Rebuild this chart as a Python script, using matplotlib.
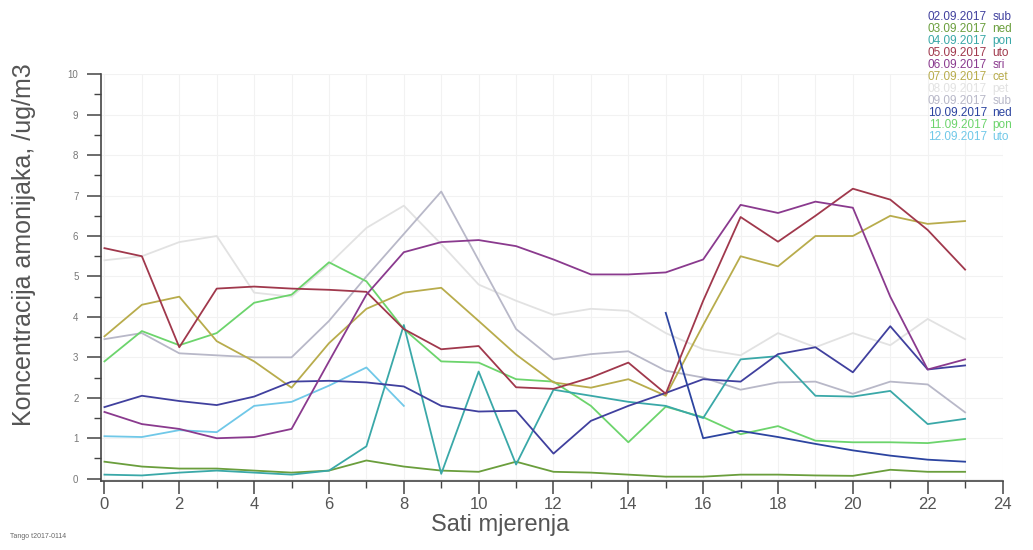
import numpy as np
import matplotlib
matplotlib.use("Agg")
import matplotlib.pyplot as plt
from matplotlib.ticker import MultipleLocator

plt.rcParams['font.family'] = ['Liberation Sans', 'DejaVu Sans']

hours = list(range(24))
N = None

dates = ["02.09.2017", "03.09.2017", "04.09.2017", "05.09.2017", "06.09.2017", "07.09.2017",
         "08.09.2017", "09.09.2017", "10.09.2017", "11.09.2017", "12.09.2017"]
days = ["sub", "ned", "pon", "uto", "sri", "cet", "pet", "sub", "ned", "pon", "uto"]
colors = ["#40409e", "#6a9e3c", "#3aa8a8", "#a0384c", "#8a3a8e", "#b8ac4c",
          "#e2e2e2", "#b8b8c8", "#2c44a0", "#6cd46c", "#70c8e8"]

d0209 = [1.77, 2.05, 1.92, 1.82, 2.03, 2.40, 2.42, 2.38, 2.28, 1.80, 1.66, 1.68,
         0.62, 1.43, 1.80, 2.12, 2.46, 2.40, 3.08, 3.25, 2.63, 3.77, 2.70, 2.80]
d0309 = [0.42, 0.30, 0.25, 0.25, 0.20, 0.15, 0.20, 0.45, 0.30, 0.20, 0.17, 0.42,
         0.17, 0.15, 0.10, 0.05, 0.05, 0.10, 0.10, 0.08, 0.07, 0.22, 0.17, 0.17]
d0409 = [0.10, 0.08, 0.15, 0.20, 0.15, 0.10, 0.20, 0.80, 3.80, 0.12, 2.65, 0.35,
         2.20, 2.05, 1.90, 1.80, 1.50, 2.95, 3.03, 2.05, 2.03, 2.17, 1.35, 1.48]
d0509 = [5.70, 5.50, 3.25, 4.70, 4.75, 4.70, 4.67, 4.62, 3.70, 3.20, 3.28, 2.26,
         2.22, 2.50, 2.87, 2.10, 4.40, 6.47, 5.86, 6.50, 7.17, 6.90, 6.15, 5.17]
d0609 = [1.65, 1.35, 1.23, 1.00, 1.03, 1.23, 2.90, 4.55, 5.60, 5.85, 5.90, 5.75,
         5.42, 5.05, 5.05, 5.10, 5.42, 6.77, 6.57, 6.85, 6.70, 4.50, 2.70, 2.95]
d0709 = [3.52, 4.30, 4.50, 3.40, 2.90, 2.25, 3.35, 4.20, 4.60, 4.72, 3.90, 3.07,
         2.38, 2.25, 2.46, 2.05, 3.80, 5.50, 5.25, 6.00, 6.00, 6.50, 6.30, 6.37]
d0809 = [5.40, 5.50, 5.85, 6.00, 4.60, 4.50, 5.30, 6.20, 6.75, 5.80, 4.80, 4.40,
         4.05, 4.20, 4.15, 3.60, 3.20, 3.05, 3.60, 3.25, 3.60, 3.30, 3.95, 3.45]
d0909 = [3.45, 3.60, 3.10, 3.05, 3.00, 3.00, 3.90, 5.00, 6.05, 7.10, 5.40, 3.70,
         2.95, 3.08, 3.15, 2.67, 2.50, 2.20, 2.38, 2.40, 2.10, 2.40, 2.33, 1.64]
d1009 = [N, N, N, N, N, N, N, N, N, N, N, N,
         N, N, N, 4.10, 1.00, 1.18, 1.03, 0.86, 0.70, 0.57, 0.47, 0.42]
d1109 = [2.90, 3.65, 3.30, 3.60, 4.35, 4.55, 5.35, 4.88, 3.70, 2.90, 2.87, 2.46,
         2.40, 1.80, 0.90, 1.78, 1.52, 1.10, 1.30, 0.94, 0.90, 0.90, 0.88, 0.98]
d1209 = [1.05, 1.03, 1.20, 1.15, 1.80, 1.90, 2.30, 2.75, 1.80, N, N, N,
         N, N, N, N, N, N, N, N, N, N, N, N]

series = [d0209, d0309, d0409, d0509, d0609, d0709, d0809, d0909, d1009, d1109, d1209]

fig = plt.figure(figsize=(10.33, 5.5), dpi=100)
ax = fig.add_axes([0.0975, 0.126, 0.873, 0.739])

draw_order = [6, 7, 10, 9, 1, 2, 5, 0, 8, 3, 4]
for i in draw_order:
    y = np.array([np.nan if v is None else v for v in series[i]], dtype=float)
    ax.plot(hours, y, color=colors[i], lw=1.3, zorder=3)

ax.set_xlim(-0.1, 24)
ax.set_ylim(-0.05, 10)
ax.xaxis.set_major_locator(MultipleLocator(2))
ax.xaxis.set_minor_locator(MultipleLocator(1))
ax.yaxis.set_major_locator(MultipleLocator(1))
ax.yaxis.set_minor_locator(MultipleLocator(0.5))

ax.grid(True, which='both', axis='x', color='#f2f2f2', lw=0.8, zorder=0)
ax.grid(True, which='major', axis='y', color='#f2f2f2', lw=0.8, zorder=0)

for s in ['top', 'right']:
    ax.spines[s].set_visible(False)
for s in ['left', 'bottom']:
    ax.spines[s].set_color('#444444')
    ax.spines[s].set_linewidth(1.2)

ax.tick_params(axis='x', which='major', length=9, width=1.1, color='#444444',
               labelsize=12, labelcolor='#555555', pad=3)
ax.tick_params(axis='x', which='minor', length=5, width=1.0, color='#444444')
ax.tick_params(axis='y', which='major', length=10, width=1.1, color='#444444',
               labelsize=7, labelcolor='#777777', pad=6)
ax.tick_params(axis='y', which='minor', length=5, width=1.0, color='#444444')

ax.set_xlabel("Sati mjerenja", fontsize=17, color='#555555')
ax.xaxis.set_label_coords(0.443, -0.082)
ax.set_ylabel("Koncentracija amonijaka, /ug/m3", fontsize=18, color='#555555')
ax.yaxis.set_label_coords(-0.072, 0.58)

y0 = 0.969
dy = 12 / 550
for k in range(len(dates)):
    yy = y0 - k * dy
    fig.text(0.9555, yy, dates[k], ha='right', va='center', fontsize=8.5, color=colors[k])
    fig.text(0.9605, yy, days[k], ha='left', va='center', fontsize=8.5, color=colors[k])

fig.text(0.01, 0.025, "Tango t2017-0114", fontsize=5, color='#666666', ha='left', va='center')

fig.savefig("out.png", dpi=100)
